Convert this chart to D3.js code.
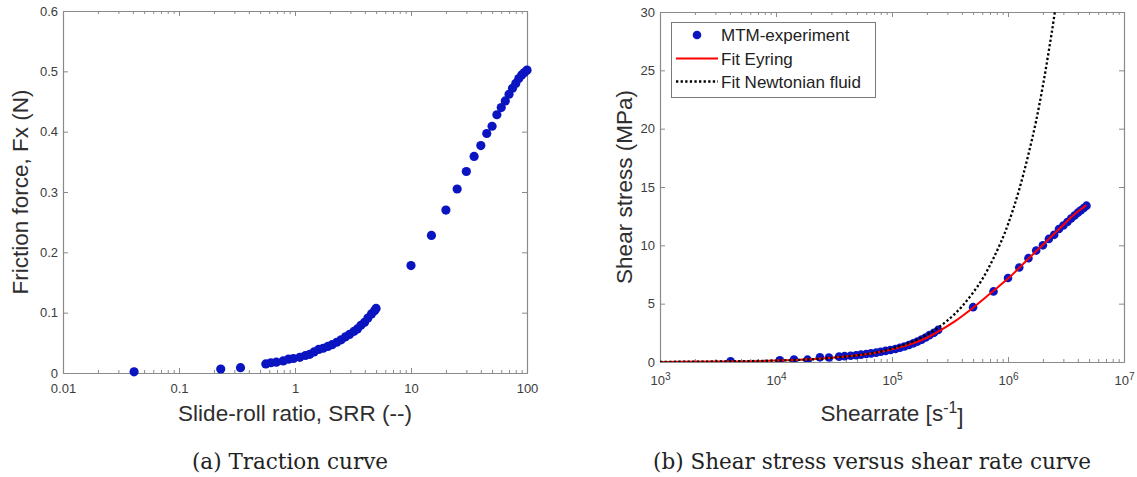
<!DOCTYPE html>
<html>
<head>
<meta charset="utf-8">
<script src="https://cdn.jsdelivr.net/npm/d3@7"></script>
<style>
  body { margin: 0; background: #fff; }
  svg { display: block; }
</style>
</head>
<body>
<svg id="fig" width="1137" height="477"></svg>
<script>
// ---- data ----
// (a) traction curve
const srrValues = [0.041, 0.229, 0.339,
  0.56, 0.62, 0.69, 0.79, 0.88, 0.97, 1.10, 1.23, 1.34, 1.46, 1.60, 1.75, 1.92,
  2.09, 2.29, 2.50, 2.73, 2.95, 3.23, 3.45, 3.70, 3.98, 4.25, 4.57, 4.85, 5.0,
  10, 15, 20, 25, 30, 35, 40, 45, 50, 55, 60, 65, 70, 75, 80, 85, 90, 95, 100];
const frictionValues = [0.002, 0.0066, 0.0088,
  0.015, 0.017, 0.018, 0.020, 0.023, 0.024, 0.026, 0.029, 0.031, 0.035, 0.039, 0.041, 0.044,
  0.047, 0.051, 0.055, 0.060, 0.064, 0.069, 0.073, 0.079, 0.084, 0.091, 0.098, 0.103, 0.107,
  0.178, 0.228, 0.270, 0.305, 0.334, 0.359, 0.377, 0.397, 0.409, 0.428, 0.440, 0.451, 0.462,
  0.472, 0.480, 0.488, 0.494, 0.498, 0.502];

// (b) shear stress vs shear rate
const shearRates = [4.06e3, 1.08e4, 1.43e4, 1.87e4, 2.39e4, 2.86e4,
  3.5e4, 3.9e4, 4.4e4, 4.9e4, 5.4e4, 6.0e4, 6.6e4, 7.3e4, 8.0e4, 8.8e4, 9.7e4,
  1.07e5, 1.17e5, 1.28e5, 1.4e5, 1.53e5, 1.66e5, 1.8e5, 1.95e5, 2.1e5, 2.3e5, 2.5e5,
  5e5, 7.5e5, 1e6, 1.25e6, 1.5e6, 1.75e6, 2e6, 2.25e6, 2.5e6, 2.75e6, 3e6, 3.25e6,
  3.5e6, 3.75e6, 4e6, 4.25e6, 4.5e6, 4.75e6];
const shearStresses = [0.06, 0.15, 0.22, 0.2, 0.4, 0.38,
  0.46, 0.5, 0.54, 0.58, 0.63, 0.68, 0.74, 0.8, 0.88, 0.95, 1.03,
  1.12, 1.22, 1.33, 1.46, 1.6, 1.75, 1.92, 2.1, 2.3, 2.5, 2.75,
  4.7, 6.05, 7.2, 8.1, 8.9, 9.55, 10.0, 10.55, 10.9, 11.4, 11.7, 12.0,
  12.3, 12.55, 12.8, 13.0, 13.2, 13.4];

const eyringRates = [1e3, 3e3, 1e4, 2e4, 3e4, 5e4, 7e4, 1e5, 1.5e5, 2e5, 2.5e5, 3.5e5,
  5e5, 7.5e5, 1e6, 1.5e6, 2e6, 2.5e6, 3e6, 3.5e6, 4e6, 4.75e6];
const eyringStress = [0.01, 0.04, 0.12, 0.24, 0.36, 0.58, 0.78, 1.08, 1.58, 2.08, 2.6, 3.5,
  4.65, 6.1, 7.15, 8.85, 10.05, 11.0, 11.75, 12.4, 12.9, 13.45];

const newtonRates = [1e3, 1e4, 3e4, 1e5, 1.5e5, 2e5, 2.5e5, 3e5, 4e5, 5e5, 6e5, 7.5e5,
  1e6, 1.25e6, 1.5e6, 1.75e6, 2e6, 2.25e6, 2.5e6, 2.6e6];
const newtonStress = [0.012, 0.12, 0.35, 1.15, 1.75, 2.35, 2.95, 3.55, 4.75, 5.95, 7.1, 8.9,
  11.8, 14.8, 17.8, 20.7, 23.7, 26.7, 29.6, 30.8];

const leftXTicks = [0.01, 0.1, 1, 10, 100];
const leftXLabels = ["0.01", "0.1", "1", "10", "100"];
const leftYTicks = [0, 0.1, 0.2, 0.3, 0.4, 0.5, 0.6];
const rightXTicks = [1e3, 1e4, 1e5, 1e6, 1e7];
const rightYTicks = [0, 5, 10, 15, 20, 25, 30];

const legendNames = ["MTM-experiment", "Fit Eyring", "Fit Newtonian fluid"];

// ---- drawing ----
const svg = d3.select("#fig");
const axisColor = "#8a8a8a";
const labelColor = "#3c3c3c";
const dotColor = "#0a14c0";
const sans = "'Liberation Sans', Arial, sans-serif";

function minorTicks(domain) {
    var out = [];
    for (var e = Math.round(Math.log10(domain[0])); e < Math.round(Math.log10(domain[1])); e++) {
        for (var k = 2; k <= 9; k++) out.push(k * Math.pow(10, e));
    }
    return out;
}

function drawFrame(g, x, y, xTicks, yTicks, xPad) {
    var x0 = x.range()[0], x1 = x.range()[1];
    var y0 = y.range()[0], y1 = y.range()[1];

    var bottom = g.append("g").attr("transform", "translate(0," + y0 + ")")
        .call(d3.axisBottom(x).tickValues(xTicks).tickSize(-5).tickSizeOuter(0).tickPadding(xPad));
    g.append("g").attr("transform", "translate(0," + y0 + ")")
        .call(d3.axisBottom(x).tickValues(minorTicks(x.domain())).tickSize(-3).tickSizeOuter(0).tickFormat(""));
    g.append("g").attr("transform", "translate(0," + y1 + ")")
        .call(d3.axisTop(x).tickValues(xTicks).tickSize(-5).tickSizeOuter(0).tickFormat(""));
    g.append("g").attr("transform", "translate(0," + y1 + ")")
        .call(d3.axisTop(x).tickValues(minorTicks(x.domain())).tickSize(-3).tickSizeOuter(0).tickFormat(""));
    var left = g.append("g").attr("transform", "translate(" + x0 + ",0)")
        .call(d3.axisLeft(y).tickValues(yTicks).tickSize(-5).tickSizeOuter(0).tickPadding(5));
    g.append("g").attr("transform", "translate(" + x1 + ",0)")
        .call(d3.axisRight(y).tickValues(yTicks).tickSize(-5).tickSizeOuter(0).tickFormat(""));

    g.selectAll(".domain").attr("stroke", axisColor).attr("stroke-width", 1.2);
    g.selectAll(".tick line").attr("stroke", axisColor).attr("stroke-width", 1);
    g.selectAll(".tick text").attr("fill", labelColor)
        .attr("font-family", sans).attr("font-size", 13);
    return {bottom: bottom, left: left};
}

function dots(g, x, y, xs, ys, r) {
    g.selectAll(null).data(xs.map((v, i) => [v, ys[i]])).enter().append("circle")
        .attr("cx", d => x(d[0])).attr("cy", d => y(d[1])).attr("r", r)
        .attr("fill", dotColor);
}

function axisLabels(g, xText, yText, cx, xy, yx, cy) {
    var xl = g.append("text").attr("x", cx).attr("y", xy)
        .attr("text-anchor", "middle").attr("fill", "#2e2e2e")
        .attr("font-family", sans).attr("font-size", 22.5);
    if (typeof xText === "string") xl.text(xText); else xText(xl);
    g.append("text").attr("transform", "translate(" + yx + "," + cy + ") rotate(-90)")
        .attr("text-anchor", "middle").attr("fill", "#2e2e2e")
        .attr("font-family", sans).attr("font-size", 22.5)
        .text(yText);
}

// panel (a)
var xa = d3.scaleLog().domain([0.01, 100]).range([63, 527]);
var ya = d3.scaleLinear().domain([0, 0.6]).range([373, 11]);
var ga = svg.append("g");
var fa = drawFrame(ga, xa, ya, leftXTicks, leftYTicks, 11);
fa.bottom.selectAll(".tick text").text((d, i) => leftXLabels[i]);
fa.left.selectAll(".tick text").text(d => d === 0 ? "0" : d3.format(".1f")(d));
dots(ga, xa, ya, srrValues, frictionValues, 4.6);
axisLabels(ga, "Slide-roll ratio, SRR (--)", "Friction force, Fx (N)",
    (63 + 527) / 2, 421, 28, (11 + 373) / 2);

// panel (b)
var xb = d3.scaleLog().domain([1e3, 1e7]).range([660, 1124]);
var yb = d3.scaleLinear().domain([0, 30]).range([362, 12]);
var gb = svg.append("g");
var fb = drawFrame(gb, xb, yb, rightXTicks, rightYTicks, 14);
fb.bottom.selectAll(".tick text").each(function (d) {
    var t = d3.select(this).text("");
    t.append("tspan").text("10");
    t.append("tspan").attr("dy", "-0.5em").attr("font-size", "0.78em").text(Math.round(Math.log10(d)));
});

svg.append("clipPath").attr("id", "clipB").append("rect")
    .attr("x", 660).attr("y", 12).attr("width", 1124 - 660).attr("height", 362 - 12);

var plotB = gb.append("g").attr("clip-path", "url(#clipB)");
dots(plotB, xb, yb, shearRates, shearStresses, 4.3);

var lineB = d3.line().x(d => xb(d[0])).y(d => yb(d[1])).curve(d3.curveMonotoneX);
plotB.append("path").datum(eyringRates.map((v, i) => [v, eyringStress[i]]))
    .attr("d", lineB).attr("fill", "none").attr("stroke", "#ff0000").attr("stroke-width", 2);
plotB.append("path").datum(newtonRates.map((v, i) => [v, newtonStress[i]]))
    .attr("d", lineB).attr("fill", "none").attr("stroke", "#000")
    .attr("stroke-width", 2.3).attr("stroke-dasharray", "2.3,2.3");

axisLabels(gb, function (t) {
    t.append("tspan").text("Shearrate [s");
    t.append("tspan").attr("dy", "-0.5em").attr("font-size", "0.7em").text("-1");
    t.append("tspan").attr("dy", "0.5em").text("]");
}, "Shear stress (MPa)", (660 + 1124) / 2, 421, 632, (12 + 362) / 2);

// legend
var lg = gb.append("g");
lg.append("rect").attr("x", 671.5).attr("y", 22.5).attr("width", 204).attr("height", 75)
    .attr("fill", "#fff").attr("stroke", "#7a7a7a").attr("stroke-width", 1);
var rowsY = [35, 58.5, 81.5];
lg.append("circle").attr("cx", 697).attr("cy", rowsY[0]).attr("r", 4.3).attr("fill", dotColor);
lg.append("line").attr("x1", 676).attr("x2", 718).attr("y1", rowsY[1]).attr("y2", rowsY[1])
    .attr("stroke", "#ff0000").attr("stroke-width", 2);
lg.append("line").attr("x1", 676).attr("x2", 718).attr("y1", rowsY[2]).attr("y2", rowsY[2])
    .attr("stroke", "#000").attr("stroke-width", 2.3).attr("stroke-dasharray", "2.3,2.3");
lg.selectAll(null).data(legendNames).enter().append("text")
    .attr("x", 721).attr("y", (d, i) => rowsY[i]).attr("dy", "0.36em")
    .attr("fill", "#222").attr("font-family", sans)
    .attr("font-size", 17).text(d => d);

// captions
svg.append("text").attr("x", 290).attr("y", 469).attr("text-anchor", "middle")
    .attr("font-family", "'DejaVu Serif', serif").attr("font-size", 21.5).attr("fill", "#222")
    .text("(a) Traction curve");
svg.append("text").attr("x", 872).attr("y", 469).attr("text-anchor", "middle")
    .attr("font-family", "'DejaVu Serif', serif").attr("font-size", 21.5).attr("fill", "#222")
    .text("(b) Shear stress versus shear rate curve");
</script>
</body>
</html>
